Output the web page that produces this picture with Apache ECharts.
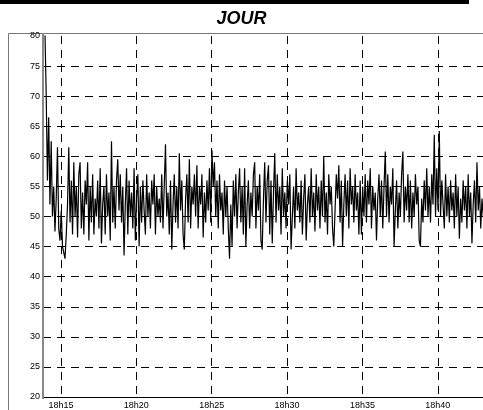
<!DOCTYPE html>
<html>
<head>
<meta charset="utf-8">
<script src="https://cdn.jsdelivr.net/npm/echarts@6/dist/echarts.min.js"></script>
<style>
    html, body {margin: 0; padding: 0; background: #fff;}
    #main {width: 483px; height: 410px;}
</style>
</head>
<body>
<div id="main"></div>
<script>
// debut de la mesure et pas d'echantillonnage
var startTime = [18, 13, 56];
var stepSeconds = 5;

// graduations de l'axe des temps (minutes apres 18h)
var timeTicks = [15, 20, 25, 30, 35, 40];

// niveaux mesures en dB(A), un toutes les 5 secondes
var niveaux = [
    81, 70.5, 56, 66.5, 52, 62.5, 50, 55, 47.5, 53, 61.5, 48,
    46, 51, 45, 44, 43, 47, 52, 61.5, 49, 56, 47, 59,
    50, 55, 46.5, 57, 59, 48, 54, 47, 56, 52, 59, 46,
    55, 49, 57, 47, 53, 50, 56, 48, 58, 45.5, 52, 55,
    47, 57, 50, 54, 46, 62.5, 49, 55, 48, 56, 59.5, 51,
    57, 49, 55, 43.5, 52, 58, 47, 56, 50, 54, 48, 58,
    46, 53, 57, 45, 55, 49, 56, 51, 47, 57, 50, 54,
    48, 56, 52, 57, 47, 55, 50, 53, 49, 57, 48, 55,
    62, 50, 54, 47, 56, 44.5, 52, 57, 49, 55, 48, 60.5,
    51, 56, 47, 44.5, 53, 57, 49, 59.5, 48, 55, 52, 57,
    50, 58.5, 48, 55, 52, 57, 46.5, 54, 49, 56, 51, 58,
    49, 61, 55, 59, 50, 56, 48, 57, 51, 54, 47, 56,
    50, 55, 48, 43, 52, 45, 56, 50, 57, 48, 54, 58,
    49, 55, 47, 58, 45, 52, 56, 48, 54, 50, 57, 59,
    48, 55, 51, 57, 46, 44.5, 53, 59, 49, 56, 58.5, 47,
    56, 45.5, 54, 60.5, 49, 57, 51, 55, 47, 58, 50, 54,
    48, 56, 52, 57, 44.5, 50, 55, 48, 58, 51, 54, 49,
    56, 47, 53, 57, 46, 52, 55, 49, 58, 50, 54, 47.5,
    57, 51, 55, 48, 56, 50, 60, 49, 54, 47, 57, 52,
    55, 48, 45, 51, 57, 53, 58.5, 49, 56, 45, 52, 57,
    50, 56, 48, 58, 52, 55, 49, 57, 51, 54, 47, 56,
    47, 55, 50, 57, 49, 56, 52, 58, 48, 55, 51, 54,
    46, 53, 57, 50, 56, 48, 55, 60.8, 50, 57, 49, 55,
    52, 58, 45, 51, 56, 48, 54, 50, 57, 60.8, 49, 55,
    51, 57, 49, 56, 48, 54, 50, 57, 52, 55, 46, 45,
    53, 49, 56, 51, 58, 50, 55, 49, 57, 52, 63.6, 50,
    58, 51, 64.2, 50, 56, 52, 48, 57, 50, 55, 49, 56,
    51, 54, 48, 57, 50, 55, 46.3, 53, 49, 56, 51, 55,
    48, 57, 50, 54, 45.5, 52, 56, 49, 59, 51, 55, 48, 53, 50
];

var chart = echarts.init(document.getElementById('main'));

// x en minutes depuis 18h00
var t0 = (startTime[0] - 18) * 60 + startTime[1] + startTime[2] / 60;
var points = [];
for (var i = 0; i < niveaux.length; i++) {
    points.push([t0 + i * stepSeconds / 60, niveaux[i]]);
}

var police = 'Liberation Sans Narrow, Liberation Sans, Arial, sans-serif';

var option = {
    animation: false,
    backgroundColor: '#fff',
    title: {
        text: 'JOUR',
        left: 'center',
        top: 5,
        textStyle: {
            fontFamily: 'Liberation Sans, Arial, sans-serif',
            fontSize: 18,
            fontWeight: 'bold',
            fontStyle: 'italic',
            color: '#000'
        }
    },
    graphic: [
        // bas du titre coupe en haut de l'image
        {type: 'rect', shape: {x: 0, y: 0, width: 469, height: 4}, style: {fill: '#000'}},
        // cadre du graphique
        {type: 'rect', shape: {x: 8.5, y: 33.5, width: 500, height: 400},
            style: {fill: 'none', stroke: '#777', lineWidth: 1}},
        // axe vertical jusqu'au cadre
        {type: 'line', shape: {x1: 43, y1: 33, x2: 43, y2: 399},
            style: {stroke: '#888', lineWidth: 2}, z: 10}
    ],
    grid: {left: 43, right: 0, top: 36, bottom: 11, containLabel: false},
    xAxis: {
        type: 'value',
        min: 13.806,
        max: 43.0,
        axisLine: {show: true, lineStyle: {color: '#000', width: 1}},
        axisTick: {show: false, customValues: timeTicks},
        axisLabel: {
            customValues: timeTicks,
            margin: 4,
            fontFamily: police,
            fontSize: 9,
            color: '#000',
            formatter: function (v) {
                return '18h' + v;
            }
        },
        splitLine: {show: true, lineStyle: {color: '#000', type: [8, 6], width: 1}}
    },
    yAxis: {
        type: 'value',
        min: 20,
        max: 80,
        interval: 5,
        axisLine: {show: false},
        axisTick: {show: false},
        axisLabel: {margin: 3, fontFamily: police, fontSize: 9, color: '#000'},
        splitLine: {show: true, showMaxLine: false, lineStyle: {color: '#000', type: [8, 6], width: 1}}
    },
    series: [{
        name: 'niveau',
        type: 'line',
        data: points,
        showSymbol: false,
        sampling: null,
        clip: true,
        lineStyle: {color: '#000', width: 1.2},
        z: 3
    }]
};

chart.setOption(option);
</script>
</body>
</html>
